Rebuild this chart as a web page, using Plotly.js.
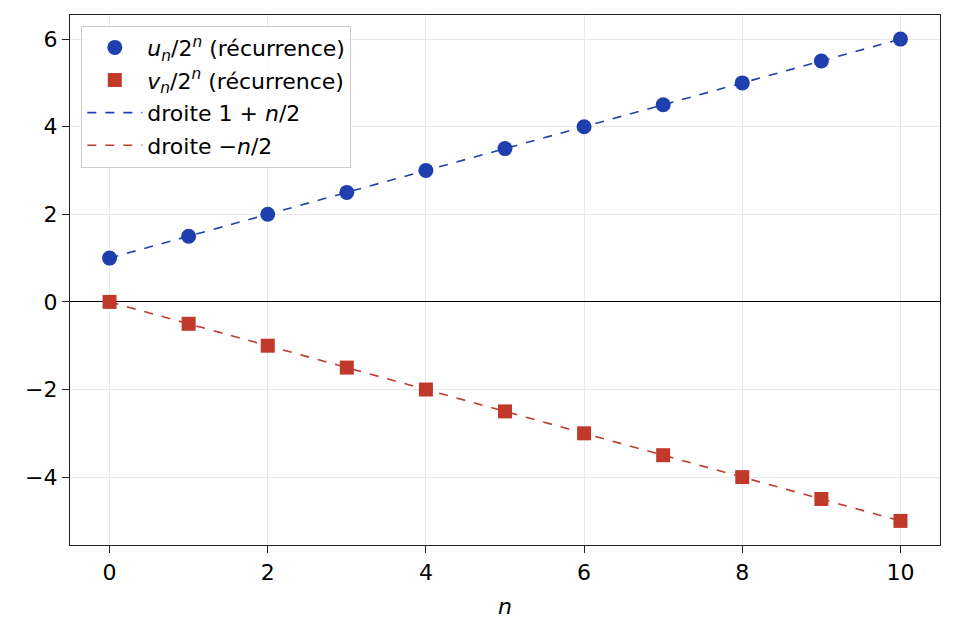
<!DOCTYPE html>
<html><head><meta charset="utf-8">
<script src="https://cdn.plot.ly/plotly-3.0.1.min.js"></script>
<style>body{margin:0;padding:0;background:#fff}</style>
</head><body>
<div id="chart" style="width:956px;height:638px"></div>
<script>
const nVals = [0,1,2,3,4,5,6,7,8,9,10];
const uVals = [1,1.5,2,2.5,3,3.5,4,4.5,5,5.5,6];
const vVals = [0,-0.5,-1,-1.5,-2,-2.5,-3,-3.5,-4,-4.5,-5];
const lineU = [1,1.5,2,2.5,3,3.5,4,4.5,5,5.5,6];
const lineV = [0,-0.5,-1,-1.5,-2,-2.5,-3,-3.5,-4,-4.5,-5];
const blue = '#1f3fae';
const red = '#c0392b';
const traces = [
  {x:nVals,y:uVals,mode:'markers',type:'scatter',name:'<i>u</i><sub><i>n</i></sub>/2<sup><i>n</i></sup> (récurrence)',
   marker:{color:blue,size:15,symbol:'circle'},legendgroup:'a',legendrank:1},
  {x:nVals,y:vVals,mode:'markers',type:'scatter',name:'<i>v</i><sub><i>n</i></sub>/2<sup><i>n</i></sup> (récurrence)',
   marker:{color:red,size:14,symbol:'square'},legendgroup:'b',legendrank:2},
  {x:nVals,y:lineU,mode:'lines',type:'scatter',name:'droite 1 + <i>n</i>/2',
   line:{color:blue,width:1.6,dash:'dash'},legendgroup:'c',legendrank:3},
  {x:nVals,y:lineV,mode:'lines',type:'scatter',name:'droite −<i>n</i>/2',
   line:{color:red,width:1.6,dash:'dash'},legendgroup:'d',legendrank:4}
];
const ordered = [traces[2],traces[3],traces[0],traces[1]];
const layout = {
  width:956,height:638,
  margin:{l:70,r:16,t:15,b:93},
  paper_bgcolor:'#fff',plot_bgcolor:'#fff',
  font:{family:'DejaVu Sans',size:22,color:'#000'},
  showlegend:true,
  legend:{x:0.013,y:0.98,xanchor:'left',yanchor:'top',bgcolor:'rgba(255,255,255,0.85)',
    bordercolor:'#cccccc',borderwidth:1,font:{size:22},traceorder:'grouped',tracegroupgap:1,itemwidth:55},
  xaxis:{range:[-0.5,10.5],tickvals:[0,2,4,6,8,10],showgrid:true,gridcolor:'#e8e8ee',gridwidth:1,
    zeroline:false,showline:true,mirror:true,linecolor:'#222',linewidth:1.2,
    ticks:'outside',ticklen:7,tickcolor:'#222',tickwidth:1.2,
    title:{text:'<i>n</i>',font:{size:22},standoff:15}},
  yaxis:{range:[-5.55,6.55],tickvals:[-4,-2,0,2,4,6],showgrid:true,gridcolor:'#e8e8ee',gridwidth:1,
    zeroline:true,zerolinecolor:'#000',zerolinewidth:1.1,showline:true,mirror:true,linecolor:'#222',linewidth:1.2,
    ticks:'outside',ticklen:7,tickcolor:'#222',tickwidth:1.2}
};
Plotly.newPlot('chart',ordered,layout,{displayModeBar:false});
</script>
</body></html>
